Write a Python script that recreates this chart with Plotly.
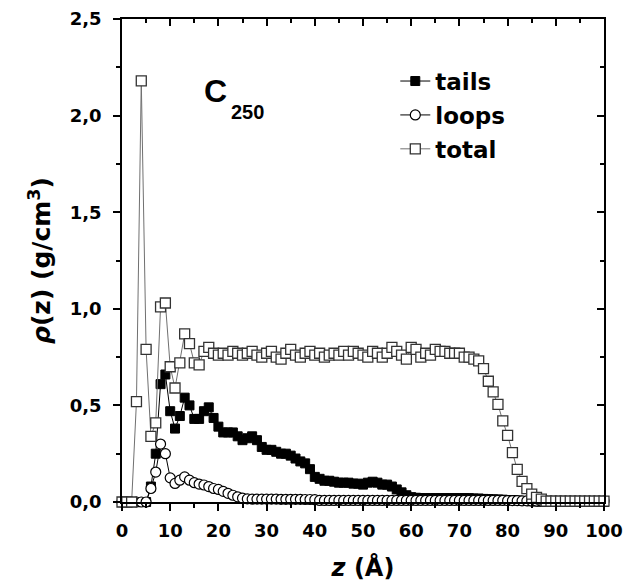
import plotly.graph_objects as go

z = list(range(0, 101))

tails = [0, 0, 0, 0, 0, 0, 0.08, 0.25, 0.61, 0.66,
         0.47, 0.38, 0.445, 0.54, 0.50, 0.43, 0.43, 0.47, 0.49, 0.435,
         0.39, 0.36, 0.36, 0.36, 0.34, 0.32, 0.33, 0.34, 0.32, 0.285,
         0.27, 0.27, 0.26, 0.25, 0.25, 0.24, 0.225, 0.21, 0.20, 0.17,
         0.13, 0.12, 0.11, 0.11, 0.105, 0.10, 0.10, 0.10, 0.095, 0.095,
         0.09, 0.10, 0.105, 0.10, 0.09, 0.09, 0.08, 0.065, 0.05, 0.035,
         0.025, 0.022, 0.02, 0.02, 0.02, 0.02, 0.02, 0.02, 0.02, 0.02,
         0.02, 0.02, 0.02, 0.018, 0.018, 0.016, 0.015, 0.014, 0.013, 0.012,
         0.01, 0.01, 0.008, 0.006, 0.005, 0.004, 0.003, 0.002, 0.002, 0.001,
         0.001, 0, 0, 0, 0, 0, 0, 0, 0, 0, 0]

loops = [0, 0, 0, 0, 0, 0, 0.07, 0.155, 0.30, 0.25,
         0.125, 0.096, 0.113, 0.13, 0.113, 0.10, 0.093, 0.088, 0.08, 0.07,
         0.065, 0.055, 0.045, 0.035, 0.027, 0.02, 0.016, 0.015, 0.015, 0.015,
         0.015, 0.015, 0.015, 0.014, 0.014, 0.014, 0.014, 0.014, 0.013, 0.013,
         0.012, 0.008, 0.008, 0.008, 0.008, 0.008, 0.008, 0.008, 0.008, 0.008,
         0.008, 0.008, 0.008, 0.008, 0.008, 0.008, 0.008, 0.008, 0.008, 0.008,
         0.008, 0.008, 0.008, 0.008, 0.008, 0.008, 0.008, 0.008, 0.008, 0.008,
         0.008, 0.008, 0.008, 0.008, 0.008, 0.008, 0.008, 0.008, 0.008, 0.008,
         0.007, 0.007, 0.007, 0.006, 0.006, 0.005, 0.005, 0.005, 0.005, 0.005,
         0.005, 0.005, 0.005, 0.005, 0.005, 0.005, 0.005, 0.005, 0.005, 0.005, 0.005]

total = [0, 0, 0, 0.52, 2.18, 0.79, 0.34, 0.41, 1.01, 1.03,
         0.70, 0.59, 0.72, 0.87, 0.82, 0.72, 0.71, 0.78, 0.80, 0.77,
         0.76, 0.77, 0.76, 0.78, 0.77, 0.76, 0.77, 0.78, 0.76, 0.75,
         0.77, 0.78, 0.75, 0.74, 0.77, 0.79, 0.76, 0.75, 0.77, 0.78,
         0.76, 0.77, 0.75, 0.76, 0.77, 0.76, 0.78, 0.76, 0.78, 0.77,
         0.76, 0.75, 0.78, 0.77, 0.75, 0.77, 0.80, 0.78, 0.76, 0.74,
         0.80, 0.79, 0.75, 0.77, 0.76, 0.79, 0.78, 0.78, 0.77, 0.77,
         0.77, 0.75, 0.75, 0.74, 0.73, 0.69, 0.625, 0.57, 0.505, 0.42,
         0.345, 0.256, 0.169, 0.107, 0.069, 0.041, 0.024, 0.015, 0.005, 0.005,
         0.005, 0.005, 0.005, 0.005, 0.005, 0.005, 0.005, 0.005, 0.005, 0.005, 0.005]

x_tick_vals = [0, 10, 20, 30, 40, 50, 60, 70, 80, 90, 100]
x_tick_text = ["0", "10", "20", "30", "40", "50", "60", "70", "80", "90", "100"]
y_tick_vals = [0, 0.5, 1.0, 1.5, 2.0, 2.5]
y_tick_text = ["0,0", "0,5", "1,0", "1,5", "2,0", "2,5"]

WIDE = "DejaVu Sans, sans-serif"
ARIAL = "Liberation Sans, Arial, sans-serif"

fig = go.Figure()
fig.add_trace(go.Scatter(
    x=z, y=tails, name="tails", mode="lines+markers", legendgroup="a",
    line=dict(color="black", width=1),
    marker=dict(symbol="square", size=9, color="black", line=dict(color="black", width=1)),
    cliponaxis=False))
fig.add_trace(go.Scatter(
    x=z, y=loops, name="loops", mode="lines+markers", legendgroup="b",
    line=dict(color="black", width=1),
    marker=dict(symbol="circle", size=10, color="white", line=dict(color="black", width=1.2)),
    cliponaxis=False))
fig.add_trace(go.Scatter(
    x=z, y=total, name="total", mode="lines+markers", legendgroup="c",
    line=dict(color="#707070", width=1),
    marker=dict(symbol="square", size=10, color="white", line=dict(color="#333333", width=1.3)),
    cliponaxis=False))
fig.add_trace(go.Scatter(x=[], y=[], xaxis="x2", yaxis="y2", showlegend=False, hoverinfo="skip"))

axis_common = dict(showline=True, linecolor="black", linewidth=1.5, showgrid=False,
                   zeroline=False, tickcolor="black", tickwidth=1.5, automargin=False)

fig.update_layout(
    width=623, height=582,
    margin=dict(l=122, r=19, t=19, b=80),
    paper_bgcolor="white", plot_bgcolor="white",
    font=dict(family=WIDE, color="black"),
    showlegend=True,
    legend=dict(x=0.567, y=0.916, xanchor="left", yanchor="top",
                font=dict(family=WIDE, size=23, weight="bold", color="black"),
                bgcolor="rgba(0,0,0,0)", tracegroupgap=1, itemwidth=30),
    xaxis=dict(range=[0, 100], ticks="outside", ticklen=7,
               tickvals=x_tick_vals, ticktext=x_tick_text,
               minor=dict(dtick=5, tick0=0, ticks="outside", ticklen=4, tickwidth=1.5, tickcolor="black"),
               tickfont=dict(family=WIDE, size=18, weight="bold"), ticklabelstandoff=5,
               title=dict(text="<i>z</i> (Å)", font=dict(family=WIDE, size=24, weight="bold"), standoff=22),
               **axis_common),
    yaxis=dict(range=[0, 2.5], ticks="outside", ticklen=7,
               tickvals=y_tick_vals, ticktext=y_tick_text,
               minor=dict(dtick=0.25, tick0=0, ticks="outside", ticklen=4, tickwidth=1.5, tickcolor="black"),
               tickfont=dict(family=WIDE, size=18, weight="bold"), ticklabelstandoff=8,
               title=dict(text="<i>ρ</i>(z) (g/cm<sup>3</sup>)", font=dict(family=WIDE, size=25, weight="bold"), standoff=12),
               **axis_common),
    xaxis2=dict(range=[0, 100], overlaying="x", side="top", anchor="y", ticks="inside", ticklen=7,
                tickvals=x_tick_vals, showticklabels=False,
                minor=dict(dtick=5, tick0=0, ticks="inside", ticklen=4, tickwidth=1.5, tickcolor="black"),
                **axis_common),
    yaxis2=dict(range=[0, 2.5], overlaying="y", side="right", anchor="x", ticks="inside", ticklen=7,
                tickvals=y_tick_vals, showticklabels=False,
                minor=dict(dtick=0.25, tick0=0, ticks="inside", ticklen=4, tickwidth=1.5, tickcolor="black"),
                **axis_common),
    annotations=[
        dict(text="C", xref="paper", yref="paper", x=0.166, y=0.851,
             xanchor="left", yanchor="middle", showarrow=False,
             font=dict(family=ARIAL, size=32, weight="bold", color="black")),
        dict(text="250", xref="paper", yref="paper", x=0.222, y=0.808,
             xanchor="left", yanchor="middle", showarrow=False,
             font=dict(family=ARIAL, size=20, weight="bold", color="black")),
    ],
)

fig.write_html("out.html")
